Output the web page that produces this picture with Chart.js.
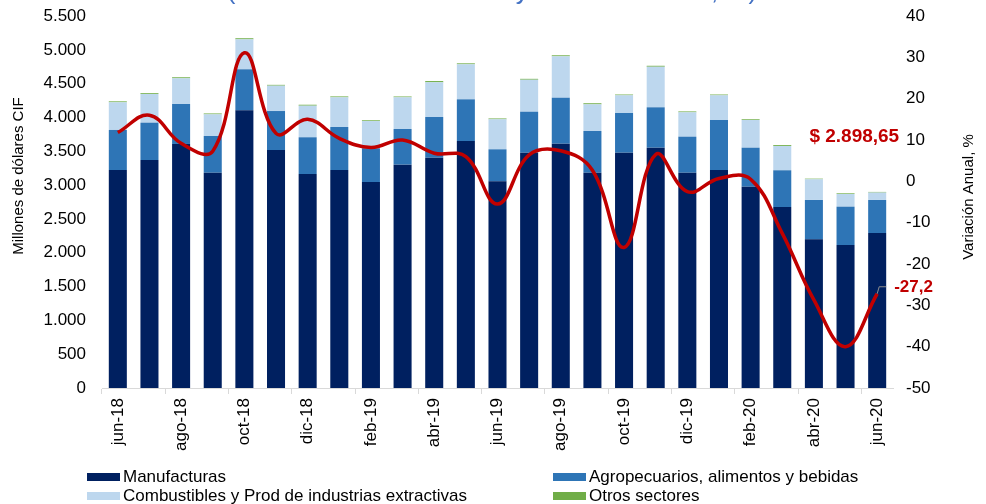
<!DOCTYPE html>
<html>
<head>
<meta charset="utf-8">
<title>Exportaciones por sector</title>
<style>
  body { margin: 0; background: #fff; }
  #wrap { position: relative; width: 986px; height: 504px; overflow: hidden; }
  #legend { position: absolute; left: 0; top: 0; font: 17px "Liberation Sans", Arial, sans-serif; color: #000; }
  #legend .item { position: absolute; height: 19px; line-height: 19px; white-space: nowrap; display: flex; align-items: center; }
  #legend .box { width: 33px; height: 8px; margin-right: 3px; }
</style>
</head>
<body>
<div id="wrap">
  <canvas id="chart" width="986" height="504"></canvas>
  <div id="legend"></div>
</div>
<script src="https://cdn.jsdelivr.net/npm/chart.js"></script>
<script>
const chartTitle = "(Millones de dólares CIF y variación anual, %)";
const months = ["jun-18", "jul-18", "ago-18", "sep-18", "oct-18", "nov-18", "dic-18",
  "ene-19", "feb-19", "mar-19", "abr-19", "may-19", "jun-19", "jul-19", "ago-19",
  "sep-19", "oct-19", "nov-19", "dic-19", "ene-20", "feb-20", "mar-20", "abr-20",
  "may-20", "jun-20"];

const manufacturas = [3223, 3371, 3608, 3183, 4106, 3519, 3164, 3223, 3046, 3302, 3405, 3652, 3056,
  3479, 3612, 3183, 3479, 3553, 3183, 3223, 2976, 2676, 2198, 2114, 2292];
const agropecuarios = [592, 552, 591, 543, 606, 576, 543, 636, 498, 527, 602, 616, 473,
  606, 680, 617, 587, 597, 533, 739, 577, 543, 582, 567, 488];
const combustibles = [409, 424, 380, 320, 443, 375, 467, 439, 403, 469, 513, 518, 444,
  473, 612, 394, 261, 600, 360, 365, 409, 359, 306, 187, 110];
const otros = [14, 12, 15, 13, 16, 12, 14, 13, 11, 12, 18, 14, 12,
  13, 15, 16, 12, 14, 13, 12, 11, 13, 9, 10, 9];
const variacion = [11.8, 16.0, 9.2, 7.3, 31.1, 11.6, 15.0, 10.4, 8.2, 10.0, 6.8, 6.0, -5.5,
  6.4, 7.4, 2.7, -16.0, 6.5, -2.5, 0.7, 0.5, -12.6, -28.7, -40.0, -27.2];

const seriesNames = ["Manufacturas", "Agropecuarios, alimentos y bebidas",
  "Combustibles y Prod de industrias extractivas", "Otros sectores"];
const seriesColors = ["#002060", "#2E75B6", "#BDD7EE", "#70AD47"];
const lastTotalLabel = "$ 2.898,65";
const lastVarLabel = "-27,2";

Chart.defaults.font.family = '"Liberation Sans", Arial, sans-serif';
Chart.defaults.font.size = 17;
Chart.defaults.color = "#000";

function miles(v) {
  return String(v).replace(/\B(?=(\d{3})+(?!\d))/g, ".");
}

// textos extra: titulo cortado, titulos de ejes y etiquetas del ultimo mes
const annotations = {
  id: "annotations",
  afterDraw(chart) {
    const ctx = chart.ctx;
    const x = chart.scales.x;
    const y = chart.scales.y;
    ctx.save();

    ctx.fillStyle = "#4472C4";
    ctx.font = '26px "Liberation Sans", Arial, sans-serif';
    ctx.textAlign = "center";
    ctx.textBaseline = "alphabetic";
    ctx.fillText(chartTitle, 492, -1);

    ctx.fillStyle = "#000";
    ctx.textBaseline = "middle";
    ctx.font = '15px "Liberation Sans", Arial, sans-serif';
    ctx.save();
    ctx.translate(19, 176);
    ctx.rotate(-Math.PI / 2);
    ctx.fillText("Millones de dólares CIF", 0, 0);
    ctx.restore();

    ctx.save();
    ctx.translate(969, 197);
    ctx.rotate(-Math.PI / 2);
    ctx.fillText("Variación Anual, %", 0, 0);
    ctx.restore();

    // etiqueta del total del ultimo mes
    const last = months.length - 1;
    const total = manufacturas[last] + agropecuarios[last] + combustibles[last] + otros[last];
    const bx = x.getPixelForValue(last);
    const by = y.getPixelForValue(total);
    ctx.fillStyle = "#C00000";
    ctx.font = 'bold 19px "Liberation Sans", Arial, sans-serif';
    ctx.textAlign = "right";
    ctx.fillText(lastTotalLabel, bx + 22, by - 55);

    // etiqueta de la variacion con linea guia
    const pt = chart.getDatasetMeta(0).data[last];
    ctx.strokeStyle = "#8c8c8c";
    ctx.lineWidth = 1;
    ctx.beginPath();
    ctx.moveTo(pt.x, pt.y);
    ctx.lineTo(pt.x + 2, pt.y - 7);
    ctx.lineTo(pt.x + 9, pt.y - 7);
    ctx.stroke();
    ctx.font = 'bold 17px "Liberation Sans", Arial, sans-serif';
    ctx.textAlign = "left";
    ctx.fillText(lastVarLabel, pt.x + 17, pt.y - 6);

    ctx.restore();
  }
};

const barSeries = [manufacturas, agropecuarios, combustibles, otros];
const datasets = [{
  type: "line",
  label: "Variación anual",
  data: variacion,
  yAxisID: "y1",
  borderColor: "#C00000",
  borderWidth: 3.5,
  pointRadius: 0,
  tension: 0.4,
  order: 0
}];
barSeries.forEach((data, i) => {
  datasets.push({
    type: "bar",
    label: seriesNames[i],
    data: data,
    yAxisID: "y",
    backgroundColor: seriesColors[i],
    stack: "total",
    order: 1
  });
});

new Chart(document.getElementById("chart").getContext("2d"), {
  data: { labels: months, datasets: datasets },
  options: {
    responsive: false,
    animation: false,
    layout: { padding: { top: 16, left: 0, right: 0, bottom: 0 } },
    plugins: { legend: { display: false }, tooltip: { enabled: false } },
    datasets: { bar: { barPercentage: 0.57, categoryPercentage: 1 } },
    scales: {
      x: {
        stacked: true,
        grid: {
          offset: true,
          drawOnChartArea: false,
          tickLength: 6,
          color: (c) => (c.index % 2 === 0 ? "#d9d9d9" : "rgba(0,0,0,0)")
        },
        border: { color: "#d9d9d9" },
        ticks: {
          autoSkip: false,
          minRotation: 90,
          maxRotation: 90,
          padding: 4,
          callback: (v, i) => (i % 2 === 0 ? months[i] : "")
        },
        afterFit: (s) => { s.height = 116; }
      },
      y: {
        stacked: true,
        position: "left",
        min: 0,
        max: 5500,
        ticks: { stepSize: 500, padding: 16, callback: (v) => miles(v) },
        grid: { display: false, drawTicks: false },
        border: { display: false },
        afterFit: (s) => { s.width = 102; s.paddingTop = 0; s.paddingBottom = 0; }
      },
      y1: {
        position: "right",
        min: -50,
        max: 40,
        ticks: { stepSize: 10, padding: 13 },
        grid: { display: false, drawTicks: false },
        border: { display: false },
        afterFit: (s) => { s.width = 93; s.paddingTop = 0; s.paddingBottom = 0; }
      }
    }
  },
  plugins: [annotations]
});

const legend = document.getElementById("legend");
seriesNames.forEach((name, i) => {
  const item = document.createElement("div");
  item.className = "item";
  item.style.left = (i % 2 === 0 ? 87 : 553) + "px";
  item.style.top = (i < 2 ? 467 : 486) + "px";
  const box = document.createElement("span");
  box.className = "box";
  box.style.background = seriesColors[i];
  const txt = document.createElement("span");
  txt.textContent = name;
  item.appendChild(box);
  item.appendChild(txt);
  legend.appendChild(item);
});
</script>
</body>
</html>
